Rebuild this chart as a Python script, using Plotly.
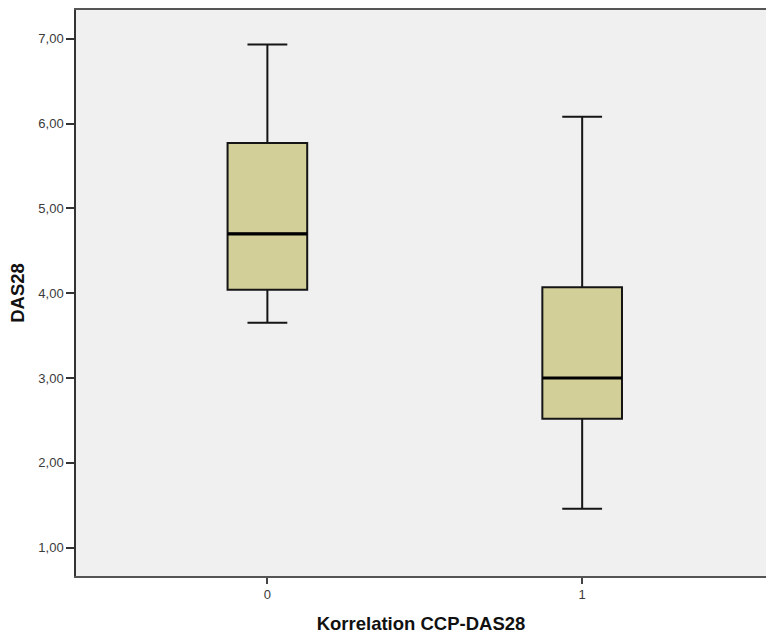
import plotly.graph_objects as go

# Five-number summaries of DAS28 per correlation group
groups = [0, 1]
tick_labels = ["0", "1"]
lower_whisker = [3.65, 1.46]
q1 = [4.04, 2.52]
median = [4.70, 3.00]
q3 = [5.77, 4.07]
upper_whisker = [6.93, 6.08]

y_ticks = [1, 2, 3, 4, 5, 6, 7]

box_width = 0.253
fill = "#d3cf98"

fig = go.Figure()

fig.add_trace(go.Box(
    x=groups,
    q1=q1,
    median=median,
    q3=q3,
    lowerfence=lower_whisker,
    upperfence=upper_whisker,
    width=box_width,
    whiskerwidth=0.5,
    fillcolor=fill,
    line=dict(color="#151515", width=2),
    boxpoints=False,
    hoverinfo="skip",
    showlegend=False,
))

# Heavier median bars drawn across each box
mx, my = [], []
for g, m in zip(groups, median):
    mx += [g - box_width / 2, g + box_width / 2, None]
    my += [m, m, None]
fig.add_trace(go.Scatter(
    x=mx, y=my, mode="lines",
    line=dict(color="#000000", width=3.2),
    hoverinfo="skip", showlegend=False,
))

tick_font = dict(family="Liberation Sans, Arial, sans-serif", size=13, color="#3a3a3a")
title_font = dict(family="Liberation Sans, Arial, sans-serif", size=18.5, color="#111111")

fig.update_layout(
    width=766,
    height=636,
    margin=dict(l=76, r=0, t=10, b=60),
    paper_bgcolor="white",
    plot_bgcolor="#f0f0f0",
    separators=",.",
    xaxis=dict(
        range=[-0.608, 1.584],
        tickvals=groups,
        ticktext=tick_labels,
        ticks="outside",
        ticklen=6,
        tickwidth=2,
        tickcolor="#444444",
        tickfont=tick_font,
        showgrid=False,
        zeroline=False,
        showline=True,
        linecolor="#555555",
        linewidth=1.5,
        mirror=True,
        title=dict(text="<b>Korrelation CCP-DAS28</b>", font=title_font, standoff=16),
    ),
    yaxis=dict(
        range=[0.666, 7.338],
        tickvals=y_ticks,
        tickformat=".2f",
        ticks="outside",
        ticklen=8,
        tickwidth=2,
        tickcolor="#333333",
        tickfont=tick_font,
        showgrid=False,
        zeroline=False,
        showline=True,
        linecolor="#333333",
        linewidth=1.5,
        title=dict(text="<b>DAS28</b>", font=title_font, standoff=9),
    ),
)

fig.write_html("out.html")
